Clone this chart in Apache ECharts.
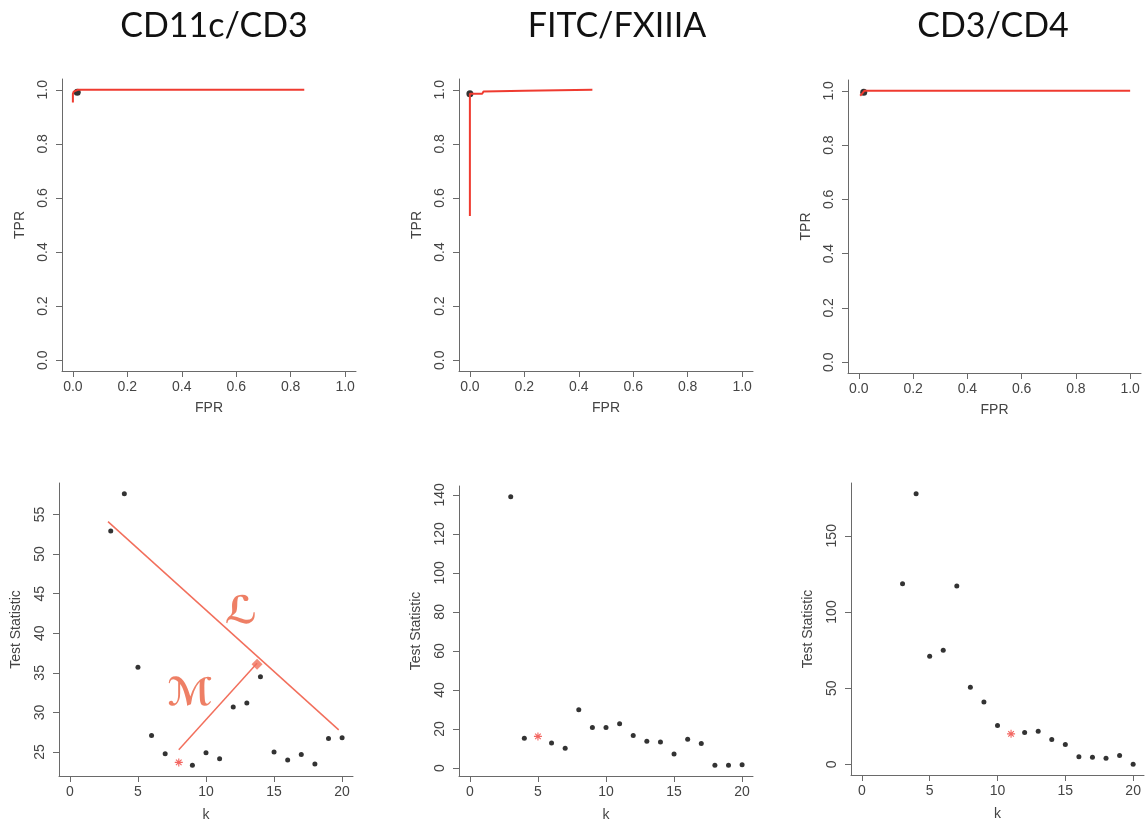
<!doctype html>
<html lang="en">
<head>
    <meta charset="UTF-8">
    <title>ROC / Test Statistic</title>
    <script src="https://cdn.jsdelivr.net/npm/echarts@6/dist/echarts.min.js"></script>
    <style>
        html, body { margin: 0; padding: 0; background: #fff; }
        #main { width: 1148px; height: 828px; }
    </style>
</head>
<body>
<div id="main"></div>
<script>
    // panel titles
    var titles = ['CD11c/CD3', 'FITC/FXIIIA', 'CD3/CD4'];

    // ROC curves (FPR / TPR)
    var rocCd11cFpr = [0, 0, 0.003, 0.008, 0.018, 0.85];
    var rocCd11cTpr = [0.953, 0.985, 0.993, 0.998, 1.0, 1.0];
    var rocFitcFpr = [0, 0, 0.045, 0.05, 0.2, 0.45];
    var rocFitcTpr = [0.533, 0.985, 0.985, 0.994, 0.997, 1.0];
    var rocCd3Fpr = [0.005, 0.012, 0.02, 1.0];
    var rocCd3Tpr = [0.982, 0.99, 1.0, 1.0];
    // chosen operating point on each ROC curve
    var cutFpr = [0.016, 0.0, 0.018];
    var cutTpr = [0.991, 0.985, 0.995];

    // test statistic against k
    var kVals = [3, 4, 5, 6, 7, 8, 9, 10, 11, 12, 13, 14, 15, 16, 17, 18, 19, 20];
    var statCd11c = [52.9, 57.6, 35.7, 27.1, 24.8, 23.7, 23.35, 24.9, 24.15, 30.7, 31.2, 34.5, 25.0, 24.0, 24.7, 23.5, 26.7, 26.8];
    var statFitc = [139, 15.2, 16.2, 12.8, 10.1, 29.9, 20.8, 20.8, 22.7, 16.6, 13.7, 13.3, 7.2, 14.7, 12.5, 1.4, 1.4, 1.7];
    var statCd3 = [118.6, 177.5, 71.0, 74.9, 117.0, 50.7, 41.0, 25.5, 20.1, 21.0, 21.8, 16.4, 13.1, 5.0, 4.8, 4.1, 5.9, 0.2];
    var chosenK = [8, 5, 11];

    // construction lines L and M on the first panel
    var lineLk = [2.8, 19.75];
    var lineLy = [54.1, 27.8];
    var lineMk = [8.0, 13.75];
    var lineMy = [25.3, 36.2];
    var diamondK = [13.75];
    var diamondY = [36.1];
    var annotK = [12.6, 8.8];
    var annotY = [42.5, 32.2];
    var annotText = ['ℒ', 'ℳ'];

    // tick values
    var rocTicks = [0, 0.2, 0.4, 0.6, 0.8, 1.0];
    var kTicks = [0, 5, 10, 15, 20];
    var cd11cTicks = [25, 30, 35, 40, 45, 50, 55];
    var fitcTicks = [0, 20, 40, 60, 80, 100, 120, 140];
    var cd3Ticks = [0, 50, 100, 150];

    var RED = '#ef3b30';
    var SALMON = '#f26f5c';
    var AXIS = '#6a6a6a';
    var TXT = '#444';
    var FONT = 'Liberation Sans';

    var asterisk = 'path://M4.3,0H5.7V10H4.3Z M0,4.3H10V5.7H0Z M1,2L2,1L9,8L8,9Z M8,1L9,2L2,9L1,8Z';

    function zip(a, b) {
        var out = [];
        for (var i = 0; i < a.length; i++) out.push([a[i], b[i]]);
        return out;
    }

    function axis(gi, min, max, ticks, digits, name, gap, isY) {
        return {
            type: 'value', gridIndex: gi, min: min, max: max,
            name: name, nameLocation: 'middle', nameGap: gap,
            nameTextStyle: {fontSize: 14, color: TXT, fontFamily: FONT},
            axisLine: {show: true, onZero: false, lineStyle: {color: AXIS, width: 1}},
            axisTick: {show: true, customValues: ticks, length: 6, lineStyle: {color: AXIS}},
            axisLabel: {
                customValues: ticks, fontSize: 14, color: TXT, fontFamily: FONT,
                margin: isY ? 12 : 9, rotate: isY ? 90 : 0,
                formatter: function (v) { return v.toFixed(digits); }
            },
            splitLine: {show: false}
        };
    }

    // grid boxes (plot regions)
    var grids = [
        {left: 62, top: 79, width: 294, height: 292},
        {left: 459, top: 79, width: 294, height: 292},
        {left: 848, top: 80, width: 293, height: 293},
        {left: 59, top: 483, width: 294, height: 293},
        {left: 459, top: 486, width: 294, height: 290},
        {left: 851, top: 483, width: 293, height: 292}
    ];

    var xAxes = [], yAxes = [];
    for (var i = 0; i < 3; i++) {
        xAxes.push(axis(i, -0.04, 1.04, rocTicks, 1, 'FPR', 30, false));
        yAxes.push(axis(i, -0.04, 1.04, rocTicks, 1, 'TPR', 35, true));
    }
    xAxes.push(axis(3, -0.8, 20.8, kTicks, 0, 'k', 32, false));
    yAxes.push(axis(3, 21.98, 58.97, cd11cTicks, 0, 'Test Statistic', 36, true));
    xAxes.push(axis(4, -0.8, 20.8, kTicks, 0, 'k', 32, false));
    yAxes.push(axis(4, -4.1, 144.5, fitcTicks, 0, 'Test Statistic', 36, true));
    xAxes.push(axis(5, -0.8, 20.8, kTicks, 0, 'k', 32, false));
    yAxes.push(axis(5, -6.9, 184.6, cd3Ticks, 0, 'Test Statistic', 36, true));

    var series = [];
    var rocX = [rocCd11cFpr, rocFitcFpr, rocCd3Fpr];
    var rocY = [rocCd11cTpr, rocFitcTpr, rocCd3Tpr];
    for (var r = 0; r < 3; r++) {
        series.push({
            type: 'line', xAxisIndex: r, yAxisIndex: r, data: zip(rocX[r], rocY[r]),
            showSymbol: false, lineStyle: {color: RED, width: 2}, silent: true
        });
        series.push({
            type: 'scatter', xAxisIndex: r, yAxisIndex: r, data: [[cutFpr[r], cutTpr[r]]],
            symbolSize: 7, itemStyle: {color: '#000'}, silent: true
        });
    }

    var stats = [statCd11c, statFitc, statCd3];
    for (var s = 0; s < 3; s++) {
        var black = [], red = [];
        for (var j = 0; j < kVals.length; j++) {
            if (kVals[j] === chosenK[s]) red.push([kVals[j], stats[s][j]]);
            else black.push([kVals[j], stats[s][j]]);
        }
        series.push({
            type: 'scatter', xAxisIndex: 3 + s, yAxisIndex: 3 + s, data: black,
            symbolSize: 5, itemStyle: {color: '#000'}, silent: true
        });
        series.push({
            type: 'scatter', xAxisIndex: 3 + s, yAxisIndex: 3 + s, data: red,
            symbol: asterisk, symbolSize: 8, itemStyle: {color: '#f0403a'}, silent: true
        });
    }

    // L and M construction on the CD11c/CD3 panel
    series.push({
        type: 'line', xAxisIndex: 3, yAxisIndex: 3, data: zip(lineLk, lineLy),
        showSymbol: false, lineStyle: {color: SALMON, width: 1.5}, silent: true
    });
    series.push({
        type: 'line', xAxisIndex: 3, yAxisIndex: 3, data: zip(lineMk, lineMy),
        showSymbol: false, lineStyle: {color: SALMON, width: 1.5}, silent: true
    });
    series.push({
        type: 'scatter', xAxisIndex: 3, yAxisIndex: 3, data: zip(diamondK, diamondY),
        symbol: 'diamond', symbolSize: 11, itemStyle: {color: '#f0715a'}, silent: true
    });
    var annotData = [];
    for (var a = 0; a < annotK.length; a++) {
        annotData.push({value: [annotK[a], annotY[a]], label: {formatter: annotText[a]}});
    }
    series.push({
        type: 'scatter', xAxisIndex: 3, yAxisIndex: 3, data: annotData,
        symbolSize: 0, silent: true,
        label: {
            show: true, position: 'inside', color: '#ea5f3f',
            fontSize: 38, fontWeight: 'bold', fontFamily: 'DejaVu Sans'
        }
    });

    var chart = echarts.init(document.getElementById('main'));
    chart.setOption({
        animation: false,
        backgroundColor: '#fff',
        title: [
            {text: titles[0], left: 209, top: 4, textAlign: 'center'},
            {text: titles[1], left: 612, top: 4, textAlign: 'center'},
            {text: titles[2], left: 988, top: 4, textAlign: 'center'}
        ].map(function (t) {
            t.textStyle = {fontFamily: 'Lato', fontWeight: 'normal', fontSize: 34, color: '#111'};
            return t;
        }),
        grid: grids,
        xAxis: xAxes,
        yAxis: yAxes,
        series: series
    });
</script>
</body>
</html>
